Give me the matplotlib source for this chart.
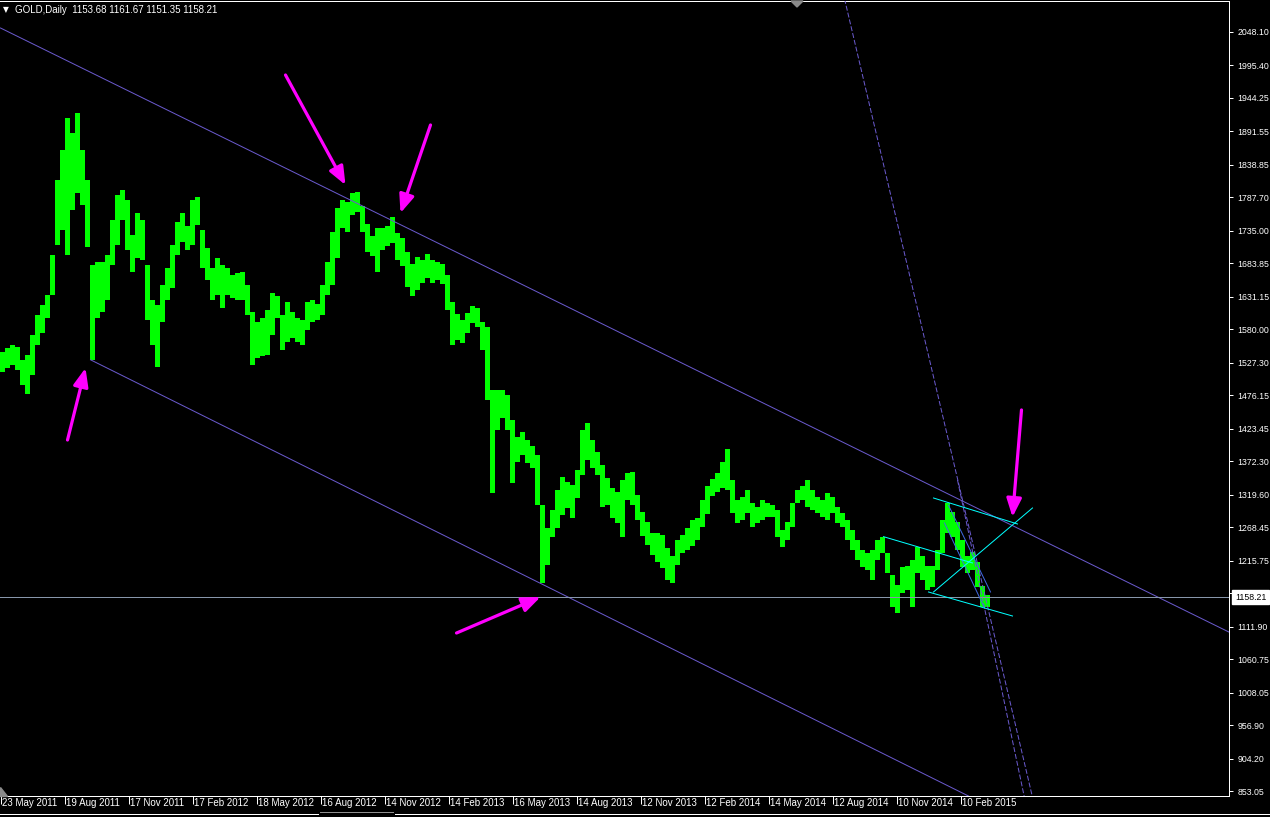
import matplotlib
matplotlib.use("Agg")
import matplotlib.pyplot as plt
from matplotlib.patches import FancyArrowPatch, Polygon
from matplotlib.lines import Line2D
from matplotlib.transforms import blended_transform_factory, ScaledTranslation
import numpy as np

W, H, DPI = 1270, 817, 100

# ---------------- data ----------------
BARS_PER_BLOCK = 5  # each value = high / low over 5 consecutive daily bars

block_high = [
    1544, 1551, 1555, 1552, 1532, 1540, 1571, 1603, 1618, 1634,
    1697, 1815, 1862, 1913, 1889, 1921, 1862, 1815, 1681, 1686,
    1686, 1697, 1752, 1791, 1799, 1784, 1729, 1763, 1752, 1681,
    1626, 1618, 1650, 1677, 1713, 1749, 1763, 1743, 1784, 1788,
    1736, 1708, 1677, 1692, 1681, 1677, 1666, 1669, 1670, 1650,
    1607, 1592, 1598, 1610, 1637, 1632, 1603, 1623, 1607, 1598,
    1595, 1623, 1626, 1620, 1650, 1686, 1733, 1771, 1784, 1780,
    1795, 1796, 1774, 1746, 1727, 1740, 1740, 1743, 1757, 1732,
    1724, 1702, 1683, 1694, 1689, 1699, 1689, 1686, 1683, 1666,
    1623, 1604, 1595, 1606, 1617, 1614, 1592, 1584, 1484, 1484,
    1484, 1477, 1437, 1411, 1418, 1406, 1396, 1382, 1303, 1267,
    1296, 1327, 1348, 1340, 1335, 1359, 1421, 1433, 1406, 1387,
    1366, 1346, 1330, 1324, 1343, 1354, 1355, 1319, 1292, 1277,
    1259, 1259, 1256, 1236, 1223, 1248, 1256, 1267, 1280, 1283,
    1311, 1333, 1344, 1354, 1371, 1392, 1343, 1311, 1316, 1327,
    1307, 1300, 1311, 1307, 1303, 1296, 1264, 1277, 1307, 1327,
    1333, 1343, 1327, 1316, 1311, 1322, 1316, 1300, 1291, 1280,
    1264, 1248, 1233, 1228, 1233, 1248, 1253, 1228, 1193, 1177,
    1206, 1207, 1217, 1237, 1223, 1207, 1207, 1233, 1280, 1307,
    1292, 1277, 1248, 1223, 1229, 1214, 1176, 1162,
]

block_low = [
    1513, 1519, 1524, 1516, 1492, 1478, 1508, 1555, 1574, 1598,
    1634, 1713, 1736, 1697, 1768, 1795, 1776, 1710, 1532, 1598,
    1607, 1626, 1681, 1713, 1752, 1705, 1670, 1692, 1689, 1595,
    1555, 1521, 1592, 1626, 1645, 1697, 1717, 1705, 1713, 1744,
    1677, 1658, 1626, 1634, 1614, 1634, 1629, 1626, 1626, 1603,
    1524, 1535, 1538, 1540, 1571, 1598, 1547, 1560, 1566, 1560,
    1555, 1579, 1592, 1595, 1603, 1634, 1650, 1692, 1740, 1733,
    1760, 1765, 1733, 1702, 1695, 1670, 1705, 1711, 1716, 1689,
    1680, 1647, 1632, 1642, 1653, 1661, 1653, 1658, 1651, 1610,
    1555, 1563, 1558, 1574, 1590, 1584, 1547, 1469, 1322, 1421,
    1440, 1421, 1338, 1371, 1382, 1370, 1362, 1303, 1181, 1209,
    1253, 1267, 1288, 1299, 1283, 1314, 1351, 1374, 1362, 1351,
    1300, 1303, 1283, 1275, 1253, 1311, 1303, 1280, 1255, 1240,
    1225, 1214, 1204, 1185, 1181, 1209, 1228, 1233, 1239, 1248,
    1269, 1289, 1318, 1324, 1330, 1327, 1291, 1275, 1280, 1291,
    1269, 1275, 1280, 1285, 1285, 1253, 1237, 1248, 1269, 1307,
    1311, 1300, 1296, 1291, 1285, 1280, 1291, 1275, 1269, 1248,
    1233, 1217, 1206, 1201, 1185, 1217, 1228, 1196, 1143, 1133,
    1165, 1170, 1143, 1196, 1185, 1170, 1174, 1201, 1228, 1259,
    1253, 1233, 1206, 1196, 1201, 1174, 1143, 1143,
]

price_ticks = [2048.10, 1995.40, 1944.25, 1891.55, 1838.85, 1787.70, 1735.00,
               1683.85, 1631.15, 1580.00, 1527.30, 1476.15, 1423.45, 1372.30,
               1319.60, 1268.45, 1215.75, 1164.60, 1111.90, 1060.75, 1008.05,
               956.90, 904.20, 853.05]
hidden_tick = 1164.60  # covered by the last-price box in the reference

date_tick_bars = [0, 64, 128, 192, 256, 320, 384, 448, 512, 576, 640, 704,
                  768, 832, 896, 960]
date_labels = ["23 May 2011", "19 Aug 2011", "17 Nov 2011", "17 Feb 2012",
               "18 May 2012", "16 Aug 2012", "14 Nov 2012", "14 Feb 2013",
               "16 May 2013", "14 Aug 2013", "12 Nov 2013", "12 Feb 2014",
               "14 May 2014", "12 Aug 2014", "10 Nov 2014", "10 Feb 2015"]

symbol = "GOLD,Daily"
ohlc = [1153.68, 1161.67, 1151.35, 1158.21]
last_price = 1158.21

# trend objects: anchor points (bar index, price)
channel_upper = [(0, 2054.4), (1000, 1280.2)]
channel_lower = [(90, 1532.0), (570, 1156.5)]
dashed_1 = [(845, 2093.8), (1031, 849.9)]
dashed_2 = [(957, 1342.7), (1023, 849.9)]
blue_a = [(948, 1303.0), (990, 1166.4)]
blue_b = [(944, 1275.0), (984, 1141.2)]
cyan_top = [(933, 1314.4), (1017, 1273.5)]
cyan_mid = [(883, 1253.5), (972, 1212.1)]
cyan_low = [(928, 1166.4), (1012, 1128.6)]
cyan_diag = [(933, 1166.4), (1032, 1298.7)]

arrows = [((285, 1980.4), (345, 1807.2)),
          ((430, 1901.7), (400, 1763.1)),
          ((67, 1405.7), (85, 1519.1)),
          ((456, 1101.8), (540, 1158.5)),
          ((1021, 1453.0), (1012, 1284.5))]

# ---------------- styling ----------------
FONT = ["Liberation Sans", "DejaVu Sans"]
plt.rcParams["font.family"] = FONT
LIME = "#00ff00"
SLATE = "#6a5acd"
ROYAL = "#4169e1"
AQUA = "#00ffff"
BIDLINE = "#8796aa"
PX = 72.0 / DPI  # one pixel in points

fig = plt.figure(figsize=(W / DPI, H / DPI), dpi=DPI, facecolor="black")
ax = fig.add_axes([0, 21 / H, 1229 / W, 795 / H])
ax.set_facecolor("black")
ax.set_xlim(-0.5, 1228.5)
ax.set_ylim(845.2, 2096.9)

# price bars
n = len(block_high)
hi = np.array(block_high, dtype=float)
lo = np.array(block_low, dtype=float)
x_left = np.arange(n) * BARS_PER_BLOCK - 0.5
ax.bar(x_left, hi - lo, bottom=lo, width=BARS_PER_BLOCK, align="edge",
       color=LIME, linewidth=0, zorder=3)


def line_through(p1, p2, x0, x1, **kw):
    (xa, ya), (xb, yb) = p1, p2
    s = (yb - ya) / (xb - xa)
    ax.plot([x0, x1], [ya + s * (x0 - xa), ya + s * (x1 - xa)], **kw)


lw = 1.0 * PX
line_through(*channel_upper, 0, 1240, color=SLATE, lw=lw, zorder=4)
line_through(*channel_lower, channel_lower[0][0], 1240, color=SLATE, lw=lw, zorder=4)
line_through(*dashed_1, 835, 1070, color=SLATE, lw=lw, dashes=(5, 2), zorder=4)
line_through(*dashed_2, dashed_2[0][0], 1070, color=SLATE, lw=lw, dashes=(5, 2), zorder=4)
for seg, col in [(blue_a, ROYAL), (blue_b, ROYAL), (cyan_top, AQUA),
                 (cyan_mid, AQUA), (cyan_low, AQUA), (cyan_diag, AQUA)]:
    line_through(*seg, seg[0][0], seg[1][0], color=col, lw=lw, zorder=5)

ax.axhline(last_price, color=BIDLINE, lw=lw, zorder=4)

for tail, head in arrows:
    arr = FancyArrowPatch(tail, head, arrowstyle="-|>,head_length=1.1,head_width=0.45",
                          mutation_scale=10, color="#ff00ff", lw=3.2 * PX,
                          shrinkA=0, shrinkB=0, zorder=6)
    ax.add_patch(arr)

# spines / axes
ax.spines["left"].set_visible(False)
for s in ["right", "bottom", "top"]:
    ax.spines[s].set_color("white")
    ax.spines[s].set_linewidth(lw)

ax.yaxis.tick_right()
ax.set_yticks(price_ticks)
ax.set_yticklabels(["" if v == hidden_tick else f"{v:.2f}" for v in price_ticks])
ax.tick_params(axis="y", colors="white", length=3, width=lw, pad=3,
               labelsize=6.3, direction="out")

ax.set_xticks(date_tick_bars)
ax.set_xticklabels([""] * len(date_tick_bars))
ax.tick_params(axis="x", colors="white", length=6, width=lw, direction="out")
trans = blended_transform_factory(ax.transData, ax.transAxes) + \
    ScaledTranslation(2 / DPI, -10.5 / DPI, fig.dpi_scale_trans)
for b, lab in zip(date_tick_bars, date_labels):
    ax.text(b, 0, lab, transform=trans, color="white", fontsize=7,
            ha="left", va="baseline", clip_on=False)

# last price box
ax.annotate(f"{last_price:.2f}", xy=(1, last_price), xycoords=("axes fraction", "data"),
            xytext=(6, 0), textcoords="offset pixels", ha="left", va="center",
            color="black", fontsize=6.3,
            bbox=dict(boxstyle="square,pad=0.3", fc="white", ec="white"),
            annotation_clip=False, zorder=10)

# header
fig.text(15 / W, 1 - 13 / H, f"{symbol}  " + " ".join(f"{v:.2f}" for v in ohlc),
         color="white", fontsize=7, va="baseline", ha="left")
fig.text(3 / W, 1 - 12 / H, "\u25bc", color="white", fontsize=5.5, va="baseline",
         ha="left", family=["DejaVu Sans"])

# window decorations
fig.add_artist(Polygon([[791 / W, 1 - 1 / H], [803 / W, 1 - 1 / H], [797 / W, 1 - 7 / H]],
                       closed=True, transform=fig.transFigure, color="#8a8a8a"))
fig.add_artist(Polygon([[0, 1 - 787 / H], [0, 1 - 796 / H], [7 / W, 1 - 796 / H]],
                       closed=True, transform=fig.transFigure, color="#8a8a8a"))
yb = 1 - 813.5 / H
fig.add_artist(Line2D([0, 318 / W], [yb, yb], color="white", lw=lw, transform=fig.transFigure))
fig.add_artist(Line2D([395 / W, 1], [yb, yb], color="white", lw=lw, transform=fig.transFigure))
fig.add_artist(Line2D([320 / W, 393 / W], [1 - 811.5 / H] * 2, color="#909090", lw=lw,
                      transform=fig.transFigure))

fig.savefig("out.png", dpi=DPI, facecolor="black")
